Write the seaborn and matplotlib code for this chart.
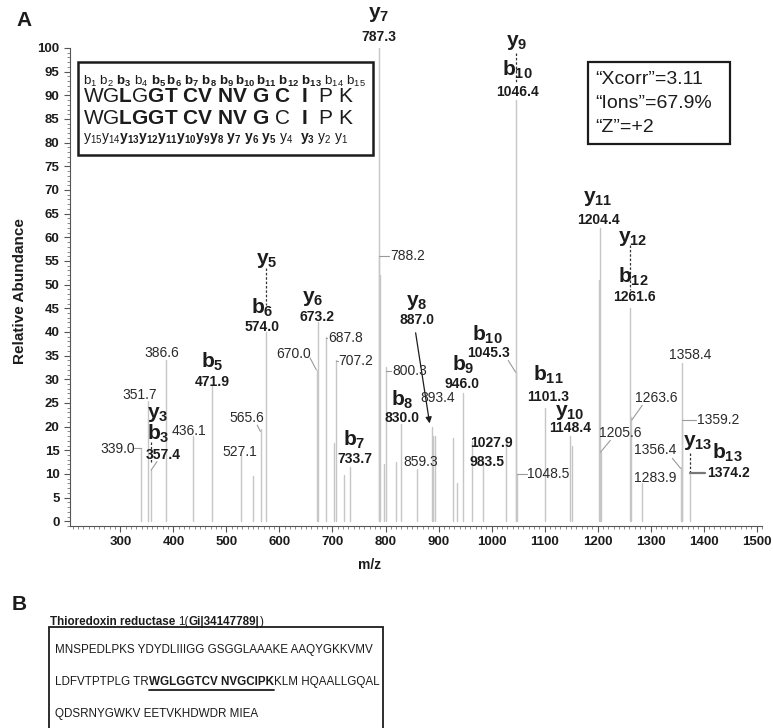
import matplotlib
matplotlib.use("Agg")
import numpy as np
import pandas as pd
import matplotlib.pyplot as plt
import seaborn as sns
from matplotlib import font_manager
from matplotlib.patches import Rectangle
from matplotlib.lines import Line2D
from matplotlib.ticker import MultipleLocator

# peaks (m/z, relative abundance)
peak_mz = [339.0, 351.7, 357.4, 386.6, 436.1, 471.9, 527.1, 551.0, 565.6, 574.0,
           670.0, 673.2, 687.8, 703.0, 707.2, 721.0, 733.7, 787.3, 788.2, 790.0,
           797.0, 800.3, 819.0, 830.0, 859.3, 887.0, 890.0, 893.4, 928.0, 935.0,
           946.0, 964.0, 983.5, 1027.9, 1045.3, 1046.4, 1048.5, 1101.3, 1148.4, 1151.0,
           1203.5, 1204.4, 1205.6, 1261.6, 1263.6, 1283.9, 1356.4, 1358.4, 1359.2, 1374.2]
peak_int = [15.5, 25.5, 10.8, 34.0, 18.0, 28.5, 14.0, 9.5, 19.5, 40.0,
            32.0, 42.0, 39.0, 16.5, 34.0, 9.8, 11.5, 100.0, 56.0, 52.0,
            12.0, 32.5, 12.5, 20.5, 11.0, 20.0, 18.0, 18.0, 17.5, 8.0,
            27.0, 17.0, 13.0, 16.5, 31.5, 89.0, 10.0, 24.0, 18.0, 16.0,
            51.0, 62.0, 14.6, 45.0, 22.0, 8.0, 11.5, 33.5, 21.0, 10.0]

# fragment ion labels: (ion, index, x, y)
ion_labels = [("y", "7", 787.3, 107.0), ("y", "9", 1048.0, 101.1), ("b", "10", 1048.0, 95.3),
              ("y", "5", 576.7, 55.2), ("b", "6", 567.3, 45.0), ("y", "6", 663.5, 47.1),
              ("b", "5", 472.9, 33.6), ("y", "3", 371.0, 22.6), ("b", "3", 371.0, 18.4),
              ("b", "7", 740.8, 17.1), ("y", "8", 859.7, 46.3), ("b", "10", 991.8, 39.3),
              ("b", "9", 946.5, 33.0), ("b", "8", 831.4, 25.6), ("b", "11", 1106.9, 30.9),
              ("y", "10", 1148.4, 23.0), ("y", "11", 1201.2, 68.3), ("y", "12", 1265.4, 59.8),
              ("b", "12", 1267.3, 51.6), ("y", "13", 1388.0, 16.7), ("b", "13", 1444.6, 14.4)]
bold_masses = [("787.3", 787.3, 102.3), ("1046.4", 1048.0, 90.7), ("574.0", 567.3, 41.0),
               ("673.2", 671.0, 43.1), ("471.9", 472.9, 29.4), ("357.4", 380.5, 14.0),
               ("733.7", 742.7, 13.1), ("887.0", 859.7, 42.5), ("1045.3", 993.7, 35.5),
               ("946.0", 944.6, 29.0), ("830.0", 831.4, 21.8), ("1027.9", 999.3, 16.5),
               ("983.5", 991.8, 12.5), ("1101.3", 1106.9, 26.2), ("1148.4", 1148.4, 19.7),
               ("1204.4", 1201.2, 63.6), ("1261.6", 1269.2, 47.4), ("1374.2", 1446.5, 10.1)]
plain_masses = [("386.6", 378.6, 35.5, "center"), ("351.7", 337.1, 26.6, "center"),
                ("436.1", 429.5, 19.0, "center"), ("339.0", 295.6, 15.2, "center"),
                ("565.6", 539.0, 21.8, "center"), ("527.1", 525.8, 14.6, "center"),
                ("670.0", 625.8, 35.3, "center"), ("687.8", 691.8, 38.7, "left"),
                ("707.2", 710.7, 33.8, "left"), ("788.2", 808.8, 56.0, "left"),
                ("800.3", 812.5, 31.7, "left"), ("893.4", 897.5, 26.0, "center"),
                ("859.3", 865.4, 12.5, "center"), ("1048.5", 1067.3, 9.9, "left"),
                ("1358.4", 1374.8, 35.1, "center"), ("1263.6", 1310.7, 26.0, "center"),
                ("1359.2", 1388.0, 21.4, "left"), ("1205.6", 1242.7, 18.6, "center"),
                ("1356.4", 1308.8, 15.0, "center"), ("1283.9", 1308.8, 9.1, "center")]
# leader lines (x0, y0, x1, y1) and dashed connectors (x, y0, y1)
leaders = [(325, 15.4, 339.0, 15.4), (369, 12.6, 358, 10.8), (558, 20.3, 564, 19.0),
           (657.8, 34.5, 669.5, 32.0), (687.8, 38.7, 690, 38.7), (707.2, 33.8, 709.5, 33.8),
           (788.2, 56.0, 807, 56.0), (800.3, 31.7, 811, 31.7), (1031.4, 34.0, 1045.3, 31.5),
           (1048.5, 9.9, 1066, 9.9), (1284.2, 24.5, 1264.5, 21.4), (1224, 17.1, 1205.6, 14.6),
           (1359.2, 21.4, 1386, 21.4), (1340.9, 13.3, 1356.4, 11.2)]
dashed = [(357.4, 16.7, 12.5), (574.0, 53.5, 45.7), (1046.4, 99.0, 92.5),
          (1261.6, 58.4, 48.8), (1374.2, 14.4, 10.1)]

score_lines = ["\u201cXcorr\u201d=3.11", "\u201cIons\u201d=67.9%", "\u201cZ\u201d=+2"]
protein_name = [("Thioredoxin reductase", "bold"), ("1(", "normal"),
                ("Gi|34147789|", "bold"), (")", "normal")]
seq_rows = [[("MNSPEDLPKS YDYDLIIIGG GSGGLAAAKE AAQYGKKVMV", "normal")],
            [("LDFVTPTPLG TR", "normal"), ("WGLGGTCV NVGCIPK", "bold"),
             ("KLM HQAALLGQAL", "normal")],
            [("QDSRNYGWKV EETVKHDWDR MIEA", "normal")]]

sns.set_style("ticks")
plt.rcParams["font.family"] = ["Liberation Sans", "DejaVu Sans"]
plt.rcParams["mathtext.fontset"] = "custom"
plt.rcParams["mathtext.rm"] = "Liberation Sans"
plt.rcParams["mathtext.bf"] = "Liberation Sans:bold"
plt.rcParams["mathtext.it"] = "Liberation Sans:italic"

installed = {f.name for f in font_manager.fontManager.ttflist}
if "Liberation Sans Narrow" in installed:
    b_family, b_size = "Liberation Sans Narrow", 9.8
else:
    b_family, b_size = "Liberation Sans", 8.35

W, H = 773, 728
INK = "#1c1c1c"


def fx(px):
    return px / W


def fy(py):
    return 1 - py / H


fig = plt.figure(figsize=(W / 100, H / 100), dpi=100)
ax = fig.add_axes([fx(70), fy(526), 692 / W, 478 / H])

stems = pd.DataFrame({
    "peak": np.repeat(np.arange(len(peak_mz)), 2),
    "mz": np.repeat(peak_mz, 2),
    "intensity": np.ravel([[0, h] for h in peak_int]),
})
sns.lineplot(data=stems, x="mz", y="intensity", units="peak", estimator=None,
             sort=False, color="#c6c6c6", lw=1.0, ax=ax, legend=False)

ax.set_xlim(205, 1510)
ax.set_ylim(-1, 100)
ax.set_xticks(range(300, 1501, 100))
ax.set_yticks(range(0, 101, 5))
ax.xaxis.set_minor_locator(MultipleLocator(10))
ax.yaxis.set_minor_locator(MultipleLocator(1))
ax.tick_params(which="major", length=4, width=0.8, color="#555555", labelsize=9.5)
ax.tick_params(which="minor", length=2, width=0.6, color="#777777")
for lab in ax.get_xticklabels() + ax.get_yticklabels():
    lab.set_fontweight("bold")
    lab.set_color(INK)
for s in ["left", "bottom"]:
    ax.spines[s].set_color("#555555")
    ax.spines[s].set_linewidth(0.8)
sns.despine(ax=ax)
ax.set_xlabel("m/z", fontweight="bold", fontsize=10, color=INK)
ax.set_ylabel("Relative Abundance", fontweight="bold", fontsize=11, color=INK)
ax.xaxis.set_label_coords((370 - 70) / 692, -(558 - 526) / 478)
ax.yaxis.set_label_coords((27 - 70) / 692, (526 - 291) / 478)

# annotations
for x0, y0, x1, y1 in leaders:
    ax.plot([x0, x1], [y0, y1], color="#9a9a9a", lw=0.8, clip_on=False)
for x, y0, y1 in dashed:
    ax.plot([x, x], [y0, y1], color="#333333", lw=0.9, ls=(0, (2, 1.5)), clip_on=False)
ax.plot([1374.2, 1402], [10.1, 10.1], color="#777777", lw=1.6)
ax.annotate("", xy=(884, 20.1), xytext=(856, 40.4),
            arrowprops=dict(arrowstyle="-|>", color=INK, lw=0.9, mutation_scale=9))

for ion, idx, x, y in ion_labels:
    ax.text(x, y, r"$\mathbf{%s_{%s}}$" % (ion, idx), fontsize=15, color=INK,
            ha="center", va="center")
for txt, x, y in bold_masses:
    ax.text(x, y, txt, fontsize=10, fontweight="bold", color=INK, ha="center", va="center")
for txt, x, y, ha in plain_masses:
    ax.text(x, y, txt, fontsize=10, color="#2a2a2a", ha=ha, va="center")

# sequence coverage box
fig.add_artist(Rectangle((fx(78), fy(155)), 295 / W, 93 / H, transform=fig.transFigure,
                         fill=False, lw=1.8, ec=INK))
row_b = (r"$\mathrm{b_1\ b_2\ }\mathbf{b_3}\mathrm{\ b_4\ }"
         r"\mathbf{b_5\,b_6\ b_7\ b_8\ b_9\,b_{10}\,b_{11}\ b_{12}\ b_{13}}\mathrm{\ b_{14}\ b_{15}}$")
row_s1 = r"$\mathrm{WG}\mathbf{L}\mathrm{G}\mathbf{GT\ CV\ NV\ G\ C\ \ I}\mathrm{\ \ P\ K}$"
row_s2 = r"$\mathrm{WG}\mathbf{LGGT\ CV\ NV\ G}\mathrm{\ C\ \ }\mathbf{I}\mathrm{\ \ P\ K}$"
row_y = (r"$\mathrm{y_{15}y_{14}}\mathbf{y_{13}y_{12}y_{11}y_{10}y_9y_8\ y_7\ y_6\ y_5}"
         r"\mathrm{\ y_4\ \ }\mathbf{y_3}\mathrm{\ y_2\ y_1}$")
fig.text(fx(83), fy(81), row_b, fontsize=9.6, color=INK, va="center")
fig.text(fx(83), fy(97), row_s1, fontsize=15, color=INK, va="center")
fig.text(fx(83), fy(118), row_s2, fontsize=15, color=INK, va="center")
fig.text(fx(83), fy(138), row_y, fontsize=10, color=INK, va="center")

# score box
fig.add_artist(Rectangle((fx(588), fy(144)), 142 / W, 82 / H, transform=fig.transFigure,
                         fill=False, lw=1.6, ec=INK))
for i, line in enumerate(score_lines):
    fig.text(fx(595), fy(80 + 23.5 * i), line, fontsize=14, color=INK, va="center")

fig.text(fx(16), fy(21), "A", fontsize=15, fontweight="bold", color=INK, ha="left", va="center")
fig.text(fx(12), fy(604), "B", fontsize=15, fontweight="bold", color=INK, ha="left", va="center")

# panel B
renderer = fig.canvas.get_renderer()


def chain(x_px, y_px, parts, gap=0.0, underline_bold=False):
    x = x_px
    for s, w in parts:
        t = fig.text(fx(x), fy(y_px), s, fontsize=b_size, fontweight=w, family=b_family,
                     color=INK, ha="left", va="center")
        bb = t.get_window_extent(renderer)
        if underline_bold and w == "bold":
            yy = bb.y0 - 1.5
            fig.add_artist(Line2D([bb.x0 / W, bb.x1 / W], [yy / H, yy / H],
                                  transform=fig.transFigure, color=INK, lw=1.3))
        x = bb.x1 + gap
    return x


x_end = chain(50, 622, protein_name[:1])
chain(x_end + 3, 622, protein_name[1:])

fig.add_artist(Rectangle((fx(49), fy(740)), 334 / W, 113 / H, transform=fig.transFigure,
                         fill=False, lw=1.3, ec=INK))
for i, row in enumerate(seq_rows):
    chain(55, 650 + 32 * i, row, underline_bold=True)

fig.savefig("out.png", dpi=100, facecolor="white")
